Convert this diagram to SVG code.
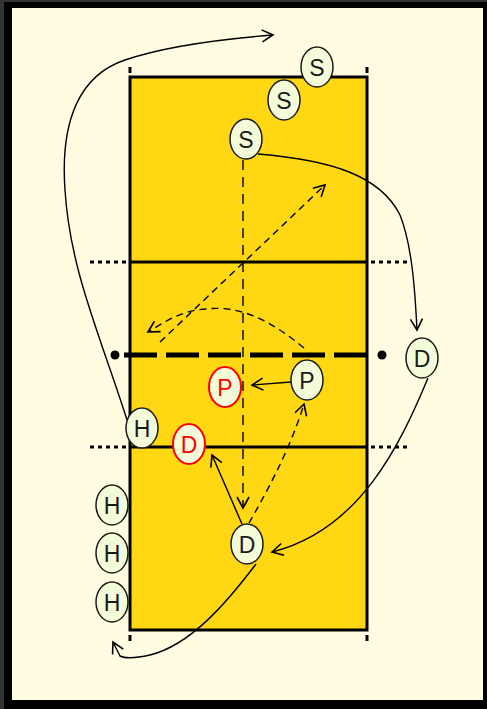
<svg xmlns="http://www.w3.org/2000/svg" width="487" height="709" viewBox="0 0 487 709">
<defs>
<style>
.court{fill:#FFD712;stroke:#000;stroke-width:3}
.line{stroke:#000;stroke-width:3;fill:none}
.dots{stroke:#000;stroke-width:3;stroke-dasharray:4 4;fill:none}
.tick{fill:#000}
.pl ellipse{fill:#F3FBD8;stroke:#1a1a1a;stroke-width:1.5}
.pl text{font-family:"Liberation Sans",Arial,sans-serif;font-size:23px;fill:#1a1a1a;text-anchor:middle}
.red ellipse{stroke:#FF0000;stroke-width:2}
.red text{fill:#FF0000}
.c{fill:none;stroke:#000;stroke-width:1.4}
.d{fill:none;stroke:#000;stroke-width:1.4;stroke-dasharray:7 5}
</style>
<marker id="ah" markerUnits="userSpaceOnUse" markerWidth="14" markerHeight="14" refX="11" refY="6" orient="auto" viewBox="-1 -1 14 14">
<path d="M0,0 L11,6 L0,12" fill="none" stroke="#000" stroke-width="1.6"/>
</marker>
</defs>
<rect x="0" y="0" width="487" height="709" fill="#333"/>
<rect x="4" y="2" width="483" height="707" fill="#000"/>
<rect x="12" y="8" width="471" height="692" fill="#FFFCE1"/>

<g id="court">
<rect class="court" x="130" y="77" width="237" height="553"/>
<line class="line" x1="130" y1="262" x2="367" y2="262"/>
<line class="line" x1="130" y1="447" x2="367" y2="447"/>
<line class="dots" x1="90" y1="262" x2="128" y2="262"/>
<line class="dots" x1="371" y1="262" x2="409" y2="262"/>
<line class="dots" x1="90" y1="447" x2="128" y2="447"/>
<line class="dots" x1="371" y1="447" x2="409" y2="447"/>
<rect class="tick" x="128.5" y="67" width="3" height="6"/>
<rect class="tick" x="365.5" y="67" width="3" height="6"/>
<rect class="tick" x="128.5" y="635" width="3" height="6"/>
<rect class="tick" x="365.5" y="635" width="3" height="6"/>
<line x1="124" y1="355" x2="373" y2="355" stroke="#000" stroke-width="5" stroke-dasharray="33 9"/>
<circle cx="115" cy="355" r="4.5" fill="#000"/>
<circle cx="382" cy="355" r="4.5" fill="#000"/>
</g>

<g id="connectors">
<path class="c" d="M127,420 C100,335 70,270 65,190 C60,120 80,75 125,60 C160,48 210,40 273,35" marker-end="url(#ah)"/>
<path class="c" d="M258,154 C330,160 380,175 400,215 C412,245 415,290 417,330" marker-end="url(#ah)"/>
<path d="M243,160 L243,508" fill="none" stroke="#000" stroke-width="1.4" stroke-dasharray="10 7" marker-end="url(#ah)"/>
<path class="d" d="M160,342 L325,185" marker-end="url(#ah)"/>
<path class="d" d="M304,348 C270,320 240,305 205,309 C180,311 165,322 148,332" marker-end="url(#ah)"/>
<path class="c" d="M291,382 L252,385" marker-end="url(#ah)"/>
<path class="d" d="M249,523 C265,495 290,450 304,404" marker-end="url(#ah)"/>
<path class="c" d="M242,524 L212,455" marker-end="url(#ah)"/>
<path class="c" d="M428,378 C400,445 360,530 272,552" marker-end="url(#ah)"/>
<path class="c" d="M256,564 C225,605 190,645 150,655 Q128,660 120,656 L113,642" marker-end="url(#ah)"/>
</g>

<g id="S1" class="pl"><ellipse cx="317" cy="67" rx="16" ry="20"/><text x="317" y="75.5">S</text></g>
<g id="S2" class="pl"><ellipse cx="284" cy="100" rx="16" ry="20"/><text x="284" y="108.5">S</text></g>
<g id="S3" class="pl"><ellipse cx="246" cy="139" rx="16" ry="20"/><text x="246" y="147.5">S</text></g>
<g id="D1" class="pl"><ellipse cx="422" cy="358" rx="16" ry="20"/><text x="422" y="366.5">D</text></g>
<g id="P1" class="pl"><ellipse cx="307" cy="380" rx="16" ry="20"/><text x="307" y="388.5">P</text></g>
<g id="P2" class="pl red"><ellipse cx="225" cy="387" rx="16" ry="20"/><text x="225" y="395.5">P</text></g>
<g id="H1" class="pl"><ellipse cx="142" cy="428" rx="16" ry="20"/><text x="142" y="436.5">H</text></g>
<g id="D2" class="pl red"><ellipse cx="189" cy="444" rx="16" ry="20"/><text x="189" y="452.5">D</text></g>
<g id="D3" class="pl"><ellipse cx="247" cy="544" rx="16" ry="20"/><text x="247" y="552.5">D</text></g>
<g id="H2" class="pl"><ellipse cx="112" cy="505" rx="16" ry="20"/><text x="112" y="513.5">H</text></g>
<g id="H3" class="pl"><ellipse cx="112" cy="553" rx="16" ry="20"/><text x="112" y="561.5">H</text></g>
<g id="H4" class="pl"><ellipse cx="112" cy="602" rx="16" ry="20"/><text x="112" y="610.5">H</text></g>
</svg>
